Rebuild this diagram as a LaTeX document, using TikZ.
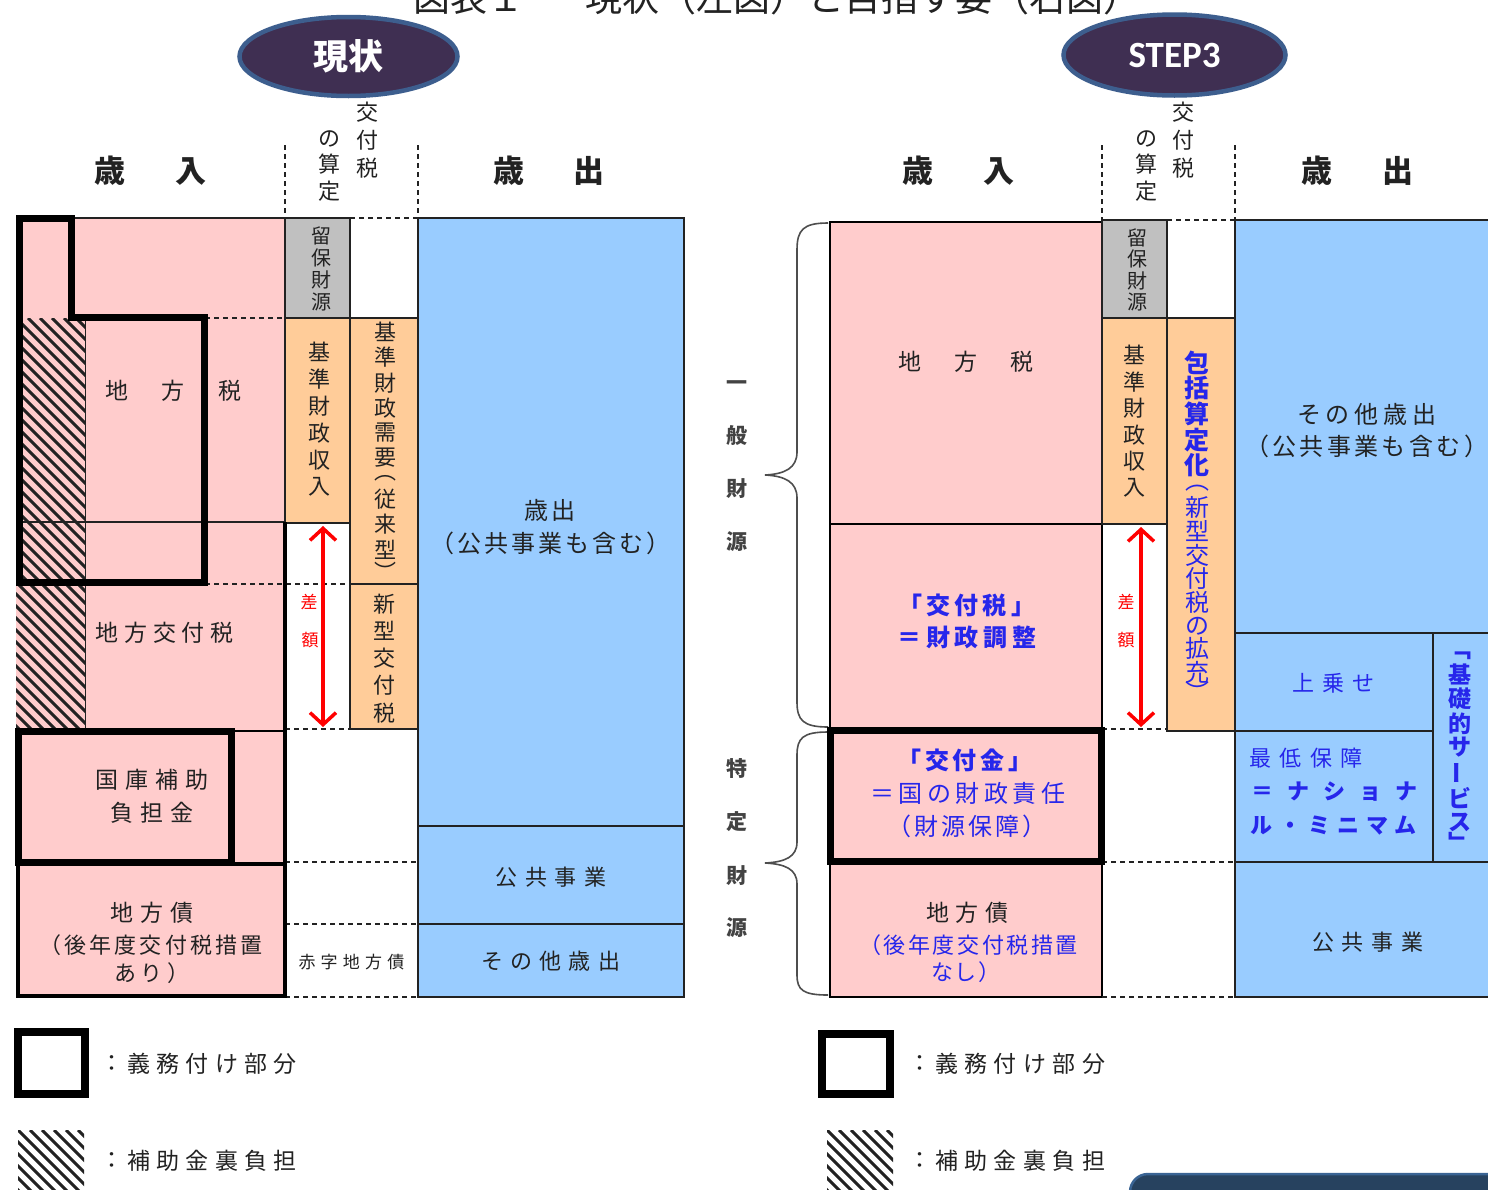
\documentclass[tikz,border=0pt]{standalone}
\usepackage{fontspec}
\newfontfamily\jp{Noto Sans CJK JP}
\newfontfamily\carl{Carlito}
\usetikzlibrary{arrows.meta,shapes.geometric}
\definecolor{pinkc}{HTML}{FFCCCC}
\definecolor{orangec}{HTML}{FFCC99}
\definecolor{bluec}{HTML}{99CCFF}
\definecolor{grayc}{HTML}{C0C0C0}
\definecolor{btext}{RGB}{38,38,235}
\definecolor{ink}{HTML}{222222}
\definecolor{ellfill}{HTML}{3F2F52}
\definecolor{elldraw}{HTML}{3D5E8E}
\definecolor{barfill}{HTML}{27425F}
\definecolor{bardraw}{HTML}{3A6494}
\newcommand\fs[1]{\fontsize{#1pt}{#1pt}\selectfont}
\makeatletter
\def\sp@A#1{\ifx#1\relax\else\hbox to 1em{\hss#1\hss}\expandafter\sp@B\fi}
\def\sp@B#1{\ifx#1\relax\else\hfil\hbox to 1em{\hss#1\hss}\expandafter\sp@B\fi}
\newcommand\hsp[2]{\hbox to #1{\sp@A#2\relax}}
\def\vs@cell#1{\ifcat\noexpand#1\relax#1\else\hbox to 1em{\hss\vphantom{国}#1\hss}\fi}
\def\vs@A#1{\ifx#1\relax\else\vs@cell{#1}\expandafter\vs@B\fi}
\def\vs@B#1{\ifx#1\relax\else\vfil\vs@cell{#1}\expandafter\vs@B\fi}
\newcommand\vsp[2]{\vbox to #1{\offinterlineskip\vs@A#2\relax}}
\makeatother
\newcommand\vhalf[1]{\hbox to 1em{\hss\vbox to 0.55em{\vss\hbox{#1}\vss}\hss}}
\newcommand\vlp{\vhalf{︵}}
\newcommand\vrp{\vhalf{︶}}
\newcommand\vlb{\vhalf{﹁}}
\newcommand\vrb{\vhalf{﹂}}
\newcommand\vbar{\hbox to 1em{\hss\vphantom{国}\rotatebox[origin=c]{90}{ー}\hss}}
\newcommand\hatch[4]{%
  \begin{scope}
  \clip (#1,#2) rectangle (#3,#4);
  \foreach \k in {-600,-588,...,120} {\draw[line width=3.1pt, ink] ({#1+\k},#2) -- ++(700,700);}
  \end{scope}}
\tikzset{
  t/.style={inner sep=0pt, outer sep=0pt, text=ink},
  thinline/.style={draw=ink, line width=1.3pt},
  pinkline/.style={draw=black, line width=2.5pt},
  dashline/.style={draw=ink, line width=1.3pt, dash pattern=on 5pt off 4pt},
  thickline/.style={draw=black, line width=7pt, line join=miter},
  redarrow/.style={draw=red, line width=3.5pt, {Straight Barb[length=12pt,width=26pt]}-{Straight Barb[length=12pt,width=26pt]}},
  bracestyle/.style={draw=ink!80, line width=1.6pt},
  ellstyle/.style={ellipse, draw=elldraw, fill=ellfill, line width=4.5pt, inner sep=0pt, text=white},
}
\begin{document}
\begin{tikzpicture}[x=1pt,y=-1pt]
\useasboundingbox (0,0) rectangle (1488,1189);
\fill[white] (0,0) rectangle (1488,1189);

% ---------- title (cut at top) ----------
\node[t, anchor=base west, font=\jp\fs{37}] (ttl1) at (413,11) {図表１};
\node[t, anchor=base west, font=\jp\fs{37}] (ttl2) at (585,11) {現状（左図）と目指す姿（右図）};

% ---------- ellipses ----------
\node[ellstyle, minimum width=218pt, minimum height=79pt, font=\jp\fs{35}\bfseries] (ell1) at (348.5,56.5) {現状};
\node[ellstyle, minimum width=222pt, minimum height=81pt, font=\carl\fs{37}\bfseries] (ell2) at (1174.5,55) {STEP3};

% =================== LEFT PANEL ===================
\fill[pinkc] (16,218) rectangle (285,997);
\fill[grayc] (285,218) rectangle (350,318);
\fill[orangec] (285,318) rectangle (350,523);
\fill[orangec] (350,318) rectangle (418,584);
\fill[orangec] (350,584) rectangle (418,729);
\fill[bluec] (418,218) rectangle (684,997);
\hatch{16}{318}{85}{728}
\draw[line width=1pt, ink] (85,318) -- (85,728);

\draw[thinline] (72,218) -- (285,218);
\draw[thinline] (18,522) -- (285,522);
\draw[thinline] (285,218) -- (285,522);
\draw[thinline] (285,218) rectangle (350,318);
\draw[thinline] (285,318) rectangle (350,523);
\draw[thinline] (350,318) rectangle (418,584);
\draw[thinline] (350,584) rectangle (418,729);
\draw[thinline] (418,218) rectangle (684,997);
\draw[thinline] (418,826) -- (684,826);
\draw[thinline] (418,924) -- (684,924);

\draw[dashline] (285,145) -- (285,218);
\draw[dashline] (418,145) -- (418,218);
\draw[dashline] (350,218) -- (418,218);
\draw[dashline] (205,318) -- (285,318);
\draw[dashline] (205,584) -- (350,584);
\draw[dashline] (285,729) -- (350,729);
\draw[dashline] (285,862) -- (418,862);
\draw[dashline] (285,924) -- (418,924);
\draw[dashline] (285,997) -- (418,997);

\draw[thickline] (19,218.5) -- (71,218.5) -- (71,317) -- (204,317) -- (204,582.5) -- (19,582.5) -- cycle;
\draw[draw=black, line width=4.5pt] (285,522) -- (285,997);
\draw[draw=black, line width=2pt] (231,731) -- (285,731);
\draw[draw=black, line width=4pt] (18,864) rectangle (285,996);
\draw[thickline] (18.5,731) rectangle (231,862);

\coordinate (la1) at (323,526);
\coordinate (la2) at (323,727);
\draw[redarrow] (la1) -- (la2);

% header texts
\node[t, font=\jp\fs{31}\bfseries] (hL1) at (150.5,171) {\hsp{112pt}{歳入}};
\node[t, font=\jp\fs{31}\bfseries] (hL2) at (549,171) {\hsp{112pt}{歳出}};
\node[t, font=\jp\fs{22}] (nL1) at (329,165) {\vsp{70pt}{の算定}};
\node[t, font=\jp\fs{22}] (nL2) at (367,140) {\vsp{75pt}{交付税}};

\node[t, font=\jp\fs{23}] (lzL) at (173.5,391) {\hsp{136pt}{地方税}};
\node[t, font=\jp\fs{23}] (lkL) at (164.5,633) {\hsp{138pt}{地方交付税}};
\node[t, font=\jp\fs{23}] (kkL1) at (152,780) {\hsp{113pt}{国庫補助}};
\node[t, font=\jp\fs{23}] (kkL2) at (152,813) {\hsp{83pt}{負担金}};
\node[t, font=\jp\fs{23}] (lsL1) at (152,913) {\hsp{83pt}{地方債}};
\node[t, font=\jp\fs{22}] (lsL2) at (151,945) {\hsp{224pt}{（後年度交付税措置}};
\node[t, font=\jp\fs{22}] (lsL3) at (152,973) {\hsp{76pt}{あり）}};
\node[t, font=\jp\fs{17}] (akaji) at (351.5,962) {\hsp{106pt}{赤字地方債}};
\node[t, font=\jp\fs{17}, text=red] (saL) at (309,602) {差};
\node[t, font=\jp\fs{17}, text=red] (gkL) at (310,640) {額};

\node[t, font=\jp\fs{20}] (ryL) at (321,269) {\vsp{82pt}{留保財源}};
\node[t, font=\jp\fs{22}] (kjL) at (319,419) {\vsp{152pt}{基準財政収入}};
\node[t, font=\jp\fs{22}] (kjjL) at (385,449.5) {\vsp{255pt}{基準財政需要\vlp 従来型\vrp}};
\node[t, font=\jp\fs{22}] (sgL) at (384,658.5) {\vsp{127pt}{新型交付税}};

\node[t, font=\jp\fs{24}] (soL1) at (550,510) {\hsp{52pt}{歳出}};
\node[t, font=\jp\fs{24}] (soL2) at (550.5,543) {\hsp{241pt}{（公共事業も含む）}};
\node[t, font=\jp\fs{22}] (kjgL) at (551,877) {\hsp{111pt}{公共事業}};
\node[t, font=\jp\fs{22}] (sotaL) at (550.5,961) {\hsp{139pt}{その他歳出}};

% =================== MIDDLE BRACES ===================
\draw[bracestyle] (828,223) .. controls (803,223) and (797,230) .. (797,250) -- (797,452)
  .. controls (797,468) and (785,474) .. (765,475) .. controls (785,476) and (797,482) .. (797,498)
  -- (797,702) .. controls (797,720) and (803,727) .. (828,727);
\draw[bracestyle] (828,732) .. controls (803,732) and (797,738) .. (797,755) -- (797,842)
  .. controls (797,857) and (785,862) .. (765,863) .. controls (785,864) and (797,869) .. (797,884)
  -- (797,975) .. controls (797,990) and (803,995) .. (828,995);
\node[t, font=\jp\fs{21}\bfseries, text=ink!85] (ippan) at (737,462.5) {\vsp{177pt}{一般財源}};
\node[t, font=\jp\fs{21}\bfseries, text=ink!85] (tokutei) at (737,848.5) {\vsp{177pt}{特定財源}};

% =================== RIGHT PANEL ===================
\fill[pinkc] (830,222) rectangle (1102,997);
\fill[grayc] (1102,220) rectangle (1167,318);
\fill[orangec] (1102,318) rectangle (1167,524);
\fill[orangec] (1167,318) rectangle (1235,731);
\fill[bluec] (1235,220) rectangle (1495,997);

\draw[pinkline] (830,222) rectangle (1102,997);
\draw[pinkline] (830,524) -- (1102,524);
\draw[thinline] (1102,220) rectangle (1167,318);
\draw[thinline] (1102,318) rectangle (1167,524);
\draw[thinline] (1167,318) rectangle (1235,731);
\draw[thinline] (1235,220) rectangle (1495,997);
\draw[thinline] (1235,633) -- (1495,633);
\draw[thinline] (1433,633) -- (1433,862);
\draw[thinline] (1235,731) -- (1433,731);
\draw[thinline] (1235,862) -- (1495,862);

\draw[dashline] (1102,145) -- (1102,220);
\draw[dashline] (1235,145) -- (1235,220);
\draw[dashline] (1167,220) -- (1235,220);
\draw[dashline] (1102,729) -- (1167,729);
\draw[dashline] (1102,862) -- (1235,862);
\draw[dashline] (1102,997) -- (1235,997);

\draw[thickline] (830.5,730.5) rectangle (1101.5,861.5);

\coordinate (ra1) at (1141,527);
\coordinate (ra2) at (1141,727);
\draw[redarrow] (ra1) -- (ra2);
\node[t, font=\jp\fs{17}, text=red] (saR) at (1126,602) {差};
\node[t, font=\jp\fs{17}, text=red] (gkR) at (1126,640) {額};

\node[t, font=\jp\fs{31}\bfseries] (hR1) at (958.5,171) {\hsp{112pt}{歳入}};
\node[t, font=\jp\fs{31}\bfseries] (hR2) at (1357.5,171) {\hsp{112pt}{歳出}};
\node[t, font=\jp\fs{22}] (nR1) at (1146,165) {\vsp{70pt}{の算定}};
\node[t, font=\jp\fs{22}] (nR2) at (1183,140) {\vsp{75pt}{交付税}};

\node[t, font=\jp\fs{23}] (lzR) at (966,362) {\hsp{135pt}{地方税}};
\node[t, font=\jp\fs{24}\bfseries, text=btext] (ktR1) at (966.5,605) {\hsp{137pt}{「交付税」}};
\node[t, font=\jp\fs{24}\bfseries, text=btext] (ktR2) at (967,637) {\hsp{139pt}{＝財政調整}};
\node[t, font=\jp\fs{24}\bfseries, text=btext] (kkR1) at (965,760) {\hsp{135pt}{「交付金」}};
\node[t, font=\jp\fs{24}, text=btext] (kkR2) at (967.5,793) {\hsp{195pt}{＝国の財政責任}};
\node[t, font=\jp\fs{24}, text=btext] (kkR3) at (966.5,826) {\hsp{159pt}{（財源保障）}};
\node[t, font=\jp\fs{23}] (lsR1) at (967,913) {\hsp{82pt}{地方債}};
\node[t, font=\jp\fs{22}, text=btext] (lsR2) at (968.5,945) {\hsp{219pt}{（後年度交付税措置}};
\node[t, font=\jp\fs{22}, text=btext] (lsR3) at (965.5,972) {\hsp{69pt}{なし）}};

\node[t, font=\jp\fs{20}] (ryR) at (1137,270) {\vsp{81pt}{留保財源}};
\node[t, font=\jp\fs{22}] (kjR) at (1134,421) {\vsp{150pt}{基準財政収入}};
\node[t, font=\jp\fs{25}\bfseries, text=btext] (hok1) at (1197,414) {\vsp{124pt}{包括算定化}};
\node[t, font=\jp\fs{24}, text=btext] (hok2) at (1197,590) {\vsp{216pt}{\vlp 新型交付税の拡充\vrp}};

\node[t, font=\jp\fs{24}] (sotaR1) at (1366.5,414) {\hsp{139pt}{その他歳出}};
\node[t, font=\jp\fs{24}] (sotaR2) at (1366.5,446) {\hsp{243pt}{（公共事業も含む）}};
\node[t, font=\jp\fs{22}, text=btext] (uwa) at (1333,683) {\hsp{82pt}{上乗せ}};
\node[t, font=\jp\fs{22}, text=btext] (st1) at (1306,758) {\hsp{114pt}{最低保障}};
\node[t, font=\jp\fs{22}\bfseries, text=btext] (st2) at (1334.5,792) {\hsp{167pt}{＝ナショナ}};
\node[t, font=\jp\fs{22}\bfseries, text=btext] (st3) at (1333.5,826) {\hsp{167pt}{ル・ミニマム}};
\node[t, font=\jp\fs{23}\bfseries, text=btext] (kiso) at (1460,748.5) {\vsp{199pt}{\vlb 基礎的サ\vbar ビス\vrb}};
\node[t, font=\jp\fs{22}] (kjgR) at (1367.5,942) {\hsp{111pt}{公共事業}};

% =================== LEGEND ===================
\draw[draw=black, line width=8pt] (18,1032) rectangle (85,1094);
\node[t, font=\jp\fs{23}] (lg1c) at (112,1064) {：};
\node[t, font=\jp\fs{23}] (lg1t) at (212,1064) {\hsp{170pt}{義務付け部分}};
\hatch{18}{1130}{84}{1200}
\node[t, font=\jp\fs{23}] (lg2c) at (112,1161) {：};
\node[t, font=\jp\fs{23}] (lg2t) at (212,1161) {\hsp{170pt}{補助金裏負担}};

\draw[draw=black, line width=8pt] (822,1034) rectangle (890,1094);
\node[t, font=\jp\fs{23}] (lg3c) at (920,1064) {：};
\node[t, font=\jp\fs{23}] (lg3t) at (1020,1064) {\hsp{170pt}{義務付け部分}};
\hatch{827}{1130}{893}{1200}
\node[t, font=\jp\fs{23}] (lg4c) at (920,1161) {：};
\node[t, font=\jp\fs{23}] (lg4t) at (1020,1161) {\hsp{170pt}{補助金裏負担}};

% bottom-right bar (cut)
\draw[fill=barfill, draw=bardraw, line width=2.5pt, rounded corners=18pt] (1130,1174) rectangle (1520,1260);
\end{tikzpicture}
\end{document}
